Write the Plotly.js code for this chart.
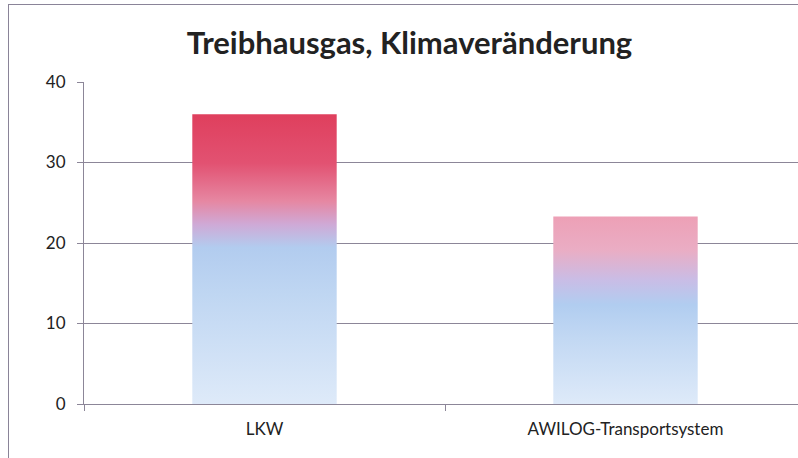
<!DOCTYPE html>
<html>
<head>
<meta charset="utf-8">
<script src="https://cdn.plot.ly/plotly-3.0.1.min.js"></script>
<style>
html, body { margin:0; padding:0; width:798px; height:458px; overflow:hidden; background:#fff; }
#wrap { position:relative; width:798px; height:458px; overflow:hidden; }
#chart { position:absolute; left:0; top:0; width:810px; height:458px; }
#frame { position:absolute; left:8px; top:4px; width:900px; height:500px; border-left:1.5px solid #8a8498; border-top:1.5px solid #8a8498; pointer-events:none; }
</style>
</head>
<body>
<div id="wrap">
  <div id="chart"></div>
  <div id="frame"></div>
</div>
<script>
// Data
const categories = ["LKW", "AWILOG-Transportsystem"];
const values = [36.0, 23.3];
const yTickVals = [0, 10, 20, 30, 40];
const titleText = "Treibhausgas, Klimaveränderung";

// Per-bar gradient stops (styling)
const gradients = [
  [[0, "#df3f5d"], [0.17, "#e25272"], [0.30, "#e687a2"], [0.38, "#cfa9d6"], [0.46, "#b2ccef"], [0.62, "#bfd6f2"], [1, "#deeaf9"]],
  [[0, "#eda0b6"], [0.18, "#eaadc4"], [0.34, "#c9bde6"], [0.47, "#b1cdf0"], [0.65, "#c2d8f3"], [1, "#deeaf9"]]
];

const gridColor = "#8c8698";
const textColor = "#222222";
const font = "Lato, 'Open Sans', 'DejaVu Sans', sans-serif";

const trace = {
  type: "bar",
  x: categories,
  y: values,
  marker: { color: ["#e06080", "#c0c8ee"], line: { width: 0 } },
  width: 0.4,
  hoverinfo: "x+y"
};

const layout = {
  width: 810,
  height: 458,
  margin: { l: 84, r: 4, t: 82, b: 54 },
  paper_bgcolor: "rgba(0,0,0,0)",
  plot_bgcolor: "rgba(0,0,0,0)",
  showlegend: false,
  title: {
    text: "<b>" + titleText + "</b>",
    font: { family: font, size: 31, color: textColor },
    xref: "container", x: 409.5 / 810, xanchor: "center",
    yref: "container", y: 1 - 43 / 458, yanchor: "middle"
  },
  xaxis: {
    type: "category",
    range: [-0.5, 1.5],
    tickson: "boundaries",
    ticks: "outside",
    ticklen: 6,
    tickcolor: gridColor,
    tickwidth: 1,
    showline: true,
    linecolor: gridColor,
    linewidth: 1,
    showgrid: false,
    tickfont: { family: font, size: 17, color: textColor },
    ticklabelstandoff: 10,
    fixedrange: true
  },
  yaxis: {
    range: [0, 40],
    tickvals: yTickVals,
    ticktext: yTickVals.map(String),
    ticks: "outside",
    ticklen: 6,
    tickcolor: gridColor,
    tickwidth: 1,
    showline: true,
    linecolor: gridColor,
    linewidth: 1,
    showgrid: true,
    gridcolor: gridColor,
    gridwidth: 1,
    zeroline: false,
    tickfont: { family: font, size: 17, color: textColor },
    ticklabelstandoff: 8,
    fixedrange: true
  },
  bargap: 0.6
};

function applyGradients(gd) {
  const svg = gd.querySelector(".main-svg");
  if (!svg) return;
  let defs = svg.querySelector("defs#bar-grads");
  if (!defs) {
    defs = document.createElementNS("http://www.w3.org/2000/svg", "defs");
    defs.setAttribute("id", "bar-grads");
    gradients.forEach((stops, i) => {
      const lg = document.createElementNS("http://www.w3.org/2000/svg", "linearGradient");
      lg.setAttribute("id", "barGrad" + i);
      lg.setAttribute("x1", "0"); lg.setAttribute("y1", "0");
      lg.setAttribute("x2", "0"); lg.setAttribute("y2", "1");
      stops.forEach(([off, col]) => {
        const s = document.createElementNS("http://www.w3.org/2000/svg", "stop");
        s.setAttribute("offset", off);
        s.setAttribute("stop-color", col);
        lg.appendChild(s);
      });
      defs.appendChild(lg);
    });
    svg.insertBefore(defs, svg.firstChild);
  }
  const paths = gd.querySelectorAll(".barlayer .point path");
  paths.forEach((p, i) => {
    p.style.fill = "url(#barGrad" + (i % gradients.length) + ")";
    p.style.fillOpacity = 1;
  });
}

const gd = document.getElementById("chart");
Plotly.newPlot(gd, [trace], layout, { displayModeBar: false, staticPlot: true }).then(() => {
  applyGradients(gd);
  gd.on("plotly_afterplot", () => applyGradients(gd));
});
</script>
</body>
</html>
